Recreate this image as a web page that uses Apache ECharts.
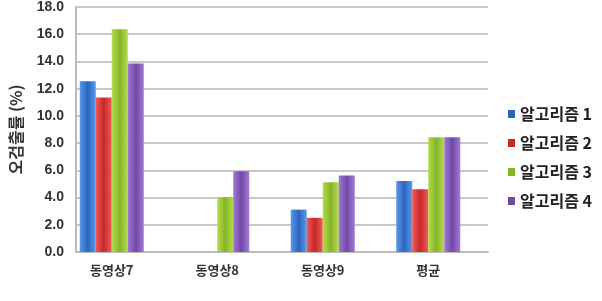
<!DOCTYPE html>
<html><head><meta charset="utf-8">
<script src="https://cdn.jsdelivr.net/npm/echarts@6/dist/echarts.min.js"></script>
<style>html,body{margin:0;padding:0;background:#fff}#c{width:602px;height:301px}</style>
</head><body><div id="c"></div>
<script>
const categories = ['동영상7', '동영상8', '동영상9', '평균'];
const seriesNames = ['알고리즘 1', '알고리즘 2', '알고리즘 3', '알고리즘 4'];
const algo1 = [12.5, 0, 3.1, 5.2];
const algo2 = [11.3, 0, 2.5, 4.6];
const algo3 = [16.3, 4.0, 5.1, 8.4];
const algo4 = [13.8, 5.9, 5.6, 8.4];
const yTicks = [0, 2, 4, 6, 8, 10, 12, 14, 16, 18];

const colors = [['#5a9ae8','#2a64c0'], ['#ee5a5a','#c82828'], ['#b4dc4a','#86b428'], ['#a27ad2','#7048a8']];
const grad = c => new echarts.graphic.LinearGradient(0,0,1,0,[{offset:0,color:c[0]},{offset:0.5,color:c[1]},{offset:1,color:c[0]}]);
const data = [algo1, algo2, algo3, algo4];
const yMin = yTicks[0], yMax = yTicks[yTicks.length-1];
const chart = echarts.init(document.getElementById('c'));
chart.setOption({
  animation: false,
  grid: [
    {left: 67, right: 114, top: 6, bottom: 49},
    {left: 59, right: 121, top: 6, bottom: 49}
  ],
  legend: {
    orient: 'vertical', left: 503, top: 101, itemWidth: 7, itemHeight: 8, itemGap: 13,
    icon: 'rect',
    textStyle: {fontSize: 16, fontWeight: 'bold', color: '#222', fontFamily: 'Noto Sans CJK KR'},
    data: seriesNames.map((n,i)=>({name:n, itemStyle:{color:colors[i][1]}}))
  },
  xAxis: [{
    gridIndex: 0, type: 'category', data: categories,
    axisLine: {lineStyle: {color: '#bbb', width: 2}},
    axisTick: {show: false},
    axisLabel: {show: false}
  }, {
    gridIndex: 1, type: 'category', data: categories,
    axisLine: {show: false},
    axisTick: {show: false},
    axisLabel: {margin: 12, fontSize: 13, fontWeight: 'bold', color: '#333', fontFamily: 'Noto Sans CJK KR'}
  }],
  yAxis: [{
    gridIndex: 0, type: 'value', min: yMin, max: yMax, interval: 2,
    name: '오검출률 (%)', nameLocation: 'middle', nameGap: 52, nameRotate: 90,
    nameTextStyle: {fontSize: 16, fontWeight: 'bold', color: '#333', fontFamily: 'Noto Sans CJK KR'},
    axisLine: {show: true, lineStyle: {color: '#bbb', width: 2}},
    axisTick: {show: false},
    splitLine: {lineStyle: {color: '#c8c8c8', width: 2}},
    axisLabel: {margin: 12, fontSize: 14, fontWeight: 'bold', color: '#333', fontFamily: 'Liberation Sans',
      formatter: v => v.toFixed(1)}
  }, {
    gridIndex: 1, type: 'value', min: yMin, max: yMax, interval: 2, show: false,
    splitLine: {show: false}
  }],
  series: data.map((d,i)=>({
    name: seriesNames[i], type: 'bar', data: d, barWidth: 16, barGap: '0%',
    xAxisIndex: 1, yAxisIndex: 1,
    itemStyle: {color: grad(colors[i])}
  }))
});
</script></body></html>
